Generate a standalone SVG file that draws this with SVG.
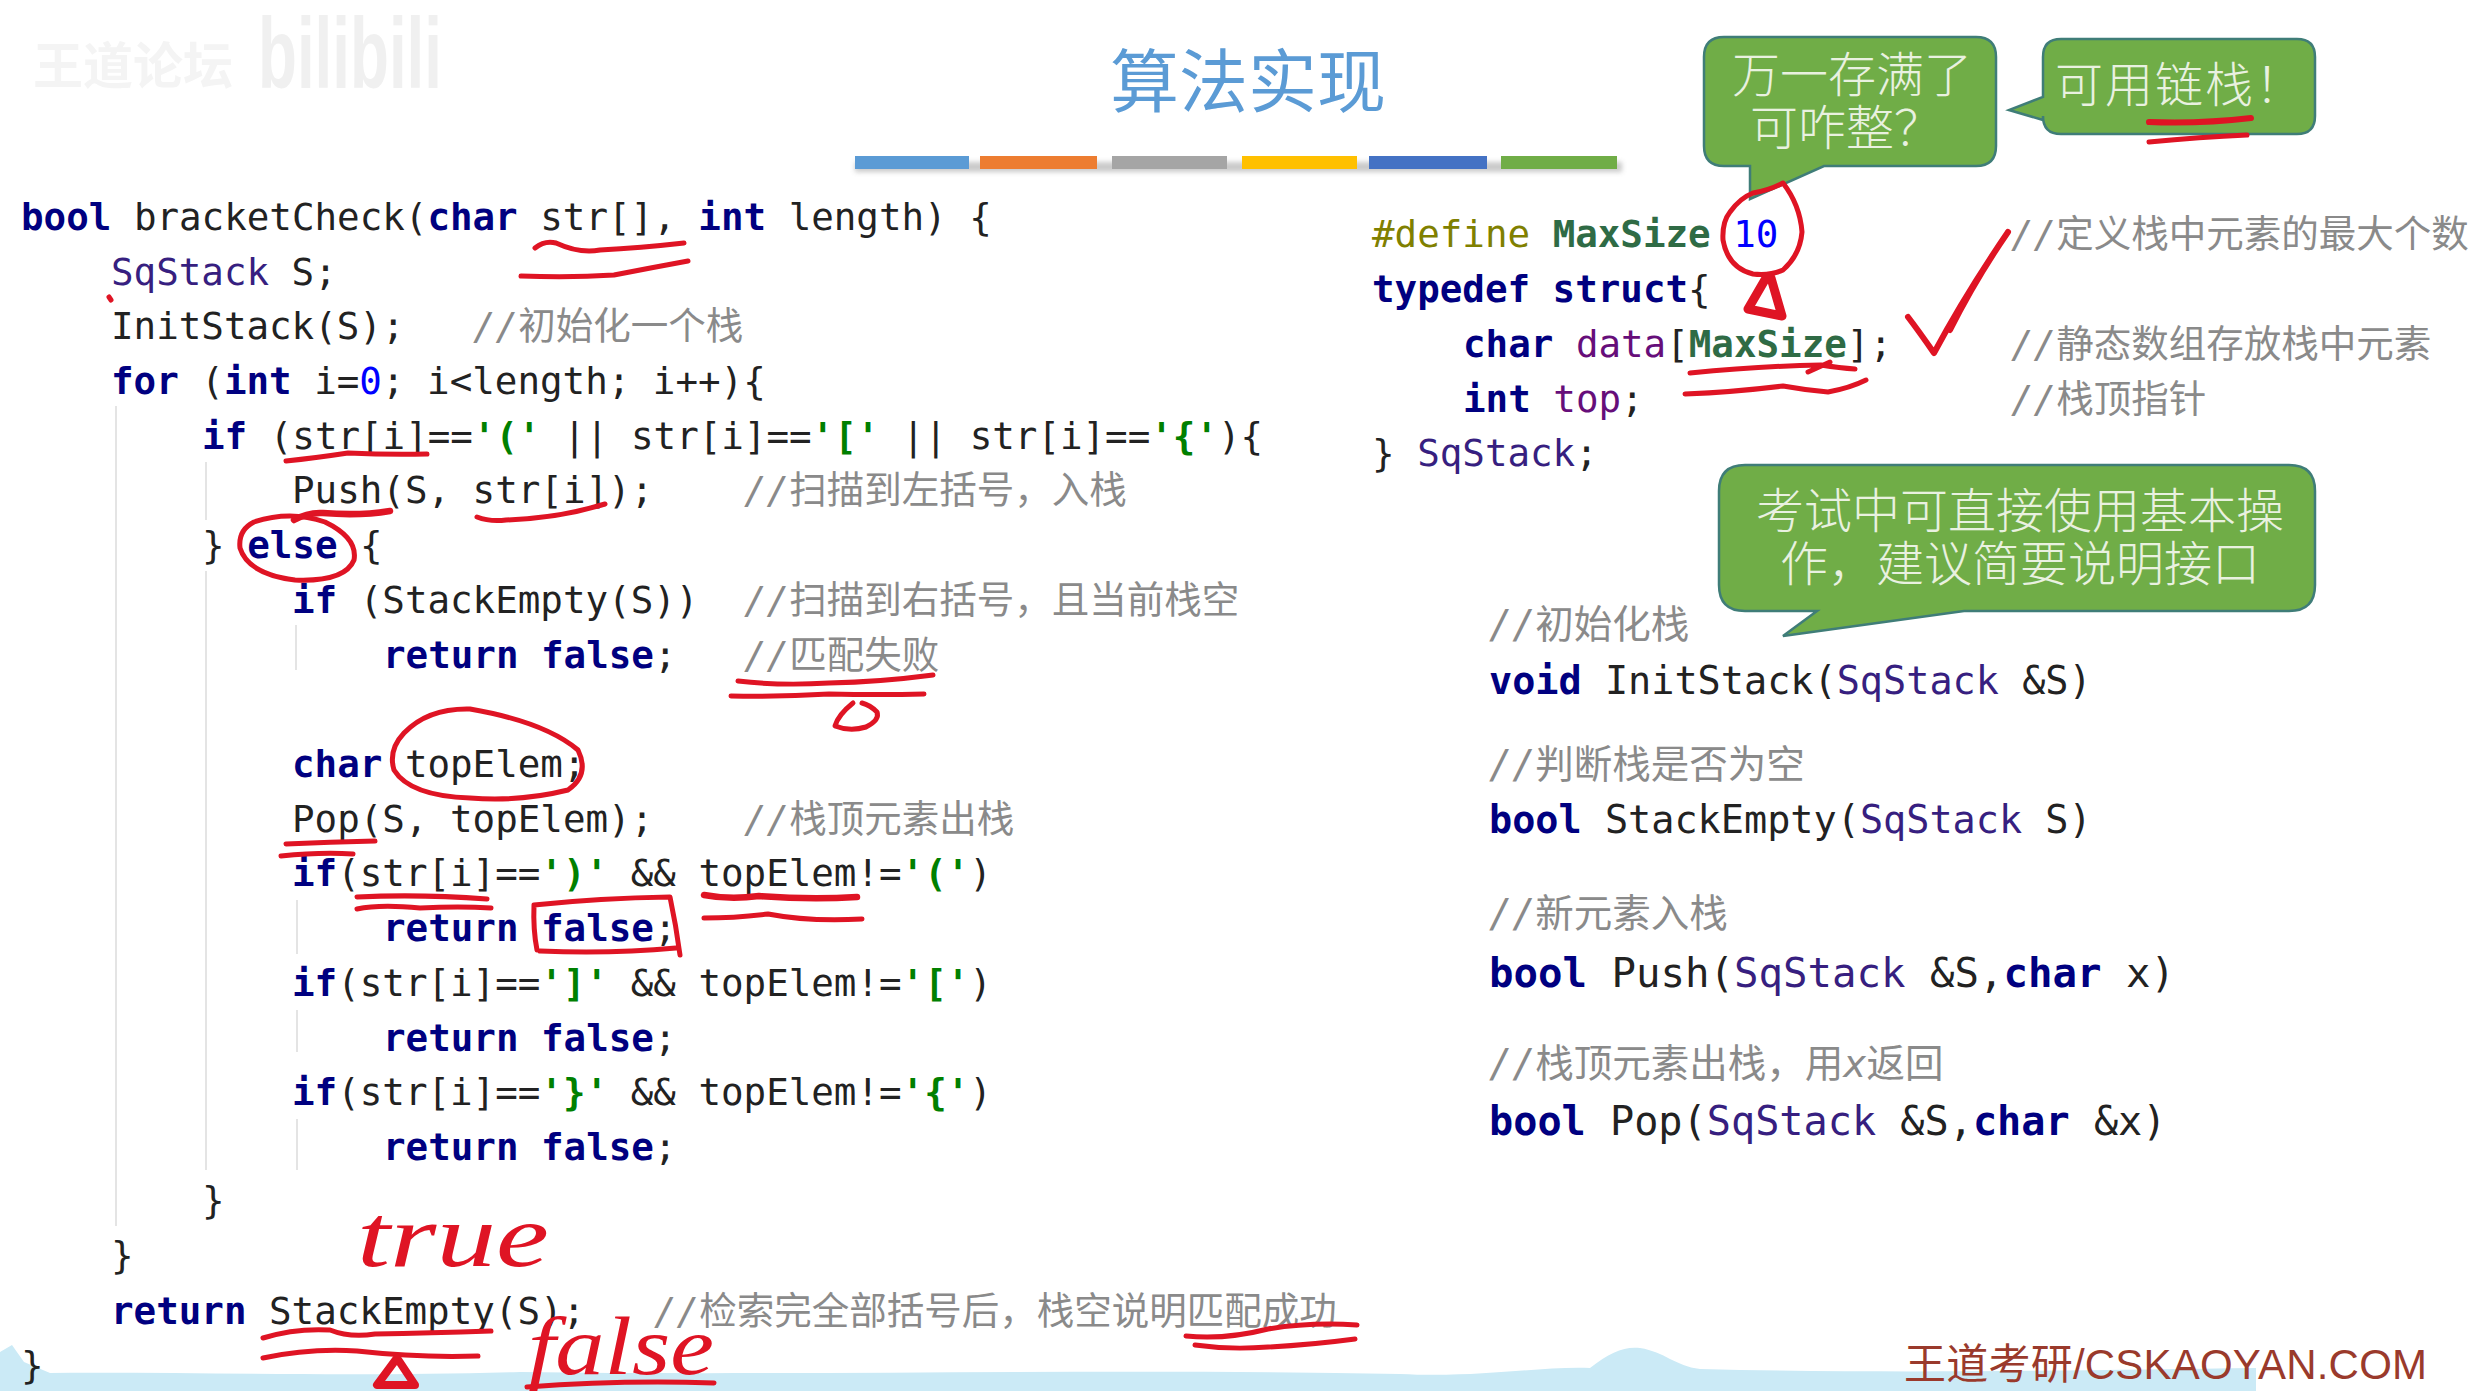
<svg xmlns="http://www.w3.org/2000/svg" width="2483" height="1391" viewBox="0 0 2483 1391">
<style>
text{white-space:pre}
.code{font-family:"DejaVu Sans Mono","Noto Sans CJK SC",monospace;font-size:37.5px;fill:#222}
.k{font-weight:bold;fill:#000080}
.t{fill:#371f80}
.m{fill:#660e7a}
.s{font-weight:bold;fill:#008000}
.n{fill:#0000ff}
.c{fill:#8a8a8a}
.i{font-style:italic}
.d{fill:#808000}
.g{font-weight:bold;fill:#2f6b45}
.guide{stroke:#e4e4e4;stroke-width:2;fill:none}
.bubble{fill:#70ad47;stroke:#3f7d78;stroke-width:2.5}
.bt{font-family:"Noto Sans CJK SC","Noto Sans",sans-serif;font-size:48px;fill:#e9f1e0;text-anchor:middle;font-weight:300}
.ink{fill:none;stroke:#df1424;stroke-width:5;stroke-linecap:round;stroke-linejoin:round}
.hand{font-family:"Liberation Serif",serif;font-style:italic;fill:#df1424}
</style>
<defs><filter id="sh" x="-5%" y="-50%" width="110%" height="200%"><feGaussianBlur stdDeviation="2.5"/></filter></defs>
<rect width="2483" height="1391" fill="#fff"/>
<g id="background">
<path d="M0 1391V1352L12 1345L24 1362L50 1373C200 1372 350 1377 520 1372C800 1376 1100 1368 1400 1374C1480 1378 1540 1366 1590 1368C1610 1352 1625 1346 1640 1348C1665 1352 1675 1366 1700 1369C1900 1374 2100 1370 2256 1368V1391Z" fill="#cbeaf6"/>
</g>
<g id="watermark">
<text x="33" y="84" font-family="Noto Sans CJK SC,sans-serif" font-size="50" font-weight="700" fill="#f4f4f4">王道论坛</text>
<text x="258" y="88" font-family="Liberation Sans,sans-serif" font-size="100" font-weight="700" fill="#f0f0f0" textLength="184" lengthAdjust="spacingAndGlyphs">bilibili</text>
</g>
<g id="title">
<text x="1110" y="107" font-family="Noto Sans CJK SC,sans-serif" font-size="69" fill="#5b9bd5">算法实现</text>
<g id="bars">
<g opacity=".45" filter="url(#sh)"><rect x="855" y="162" width="767" height="10" fill="#888"/></g>
<rect x="855" y="156" width="114" height="13" fill="#5b9bd5"/>
<rect x="980" y="156" width="117" height="13" fill="#ed7d31"/>
<rect x="1112" y="156" width="115" height="13" fill="#a5a5a5"/>
<rect x="1242" y="156" width="115" height="13" fill="#ffc000"/>
<rect x="1369" y="156" width="118" height="13" fill="#4472c4"/>
<rect x="1501" y="156" width="116" height="13" fill="#70ad47"/>
</g>
</g>
<g id="guides">
<path class="guide" d="M116 406V1226M206 462V520M206 571V1170M296 625V670M297 900V954M297 1010V1052M297 1119V1170"/>
</g>
<g id="left-code">
<text class="code" x="21" y="230"><tspan class="k">bool</tspan> bracketCheck(<tspan class="k">char</tspan> str[], <tspan class="k">int</tspan> length) {</text>
<text class="code" x="111" y="285"><tspan class="t">SqStack</tspan> S;</text>
<text class="code" x="111" y="339">InitStack(S);<tspan class="c" x="473"><tspan class="i">//</tspan>初始化一个栈</tspan></text>
<text class="code" x="111" y="394"><tspan class="k">for</tspan> (<tspan class="k">int</tspan> i=<tspan class="n">0</tspan>; i&lt;length; i++){</text>
<text class="code" x="202" y="449"><tspan class="k">if</tspan> (str[i]==<tspan class="s">'('</tspan> || str[i]==<tspan class="s">'['</tspan> || str[i]==<tspan class="s">'{'</tspan>){</text>
<text class="code" x="292" y="503">Push(S, str[i]);<tspan class="c" x="744"><tspan class="i">//</tspan>扫描到左括号，入栈</tspan></text>
<text class="code" x="202" y="558">} <tspan class="k">else</tspan> {</text>
<text class="code" x="292" y="613"><tspan class="k">if</tspan> (StackEmpty(S))<tspan class="c" x="744"><tspan class="i">//</tspan>扫描到右括号，且当前栈空</tspan></text>
<text class="code" x="383" y="668"><tspan class="k">return false</tspan>;<tspan class="c" x="744"><tspan class="i">//</tspan>匹配失败</tspan></text>
<text class="code" x="292" y="777"><tspan class="k">char</tspan> topElem;</text>
<text class="code" x="292" y="832">Pop(S, topElem);<tspan class="c" x="744"><tspan class="i">//</tspan>栈顶元素出栈</tspan></text>
<text class="code" x="292" y="886"><tspan class="k">if</tspan>(str[i]==<tspan class="s">')'</tspan> &amp;&amp; topElem!=<tspan class="s">'('</tspan>)</text>
<text class="code" x="383" y="941"><tspan class="k">return false</tspan>;</text>
<text class="code" x="292" y="996"><tspan class="k">if</tspan>(str[i]==<tspan class="s">']'</tspan> &amp;&amp; topElem!=<tspan class="s">'['</tspan>)</text>
<text class="code" x="383" y="1051"><tspan class="k">return false</tspan>;</text>
<text class="code" x="292" y="1105"><tspan class="k">if</tspan>(str[i]==<tspan class="s">'}'</tspan> &amp;&amp; topElem!=<tspan class="s">'{'</tspan>)</text>
<text class="code" x="383" y="1160"><tspan class="k">return false</tspan>;</text>
<text class="code" x="202" y="1213">}</text>
<text class="code" x="111" y="1268">}</text>
<text class="code" x="111" y="1324"><tspan class="k">return</tspan> StackEmpty(S);<tspan class="c" x="654"><tspan class="i">//</tspan>检索完全部括号后，栈空说明匹配成功</tspan></text>
<text class="code" x="21" y="1378">}</text>
</g>
<g id="struct-code">
<text class="code" x="1372" y="247"><tspan class="d">#define</tspan> <tspan class="g">MaxSize</tspan> <tspan class="n">10</tspan><tspan class="c" x="2011"><tspan class="i">//</tspan>定义栈中元素的最大个数</tspan></text>
<text class="code" x="1372" y="302"><tspan class="k">typedef struct</tspan>{</text>
<text class="code" x="1463" y="357"><tspan class="k">char</tspan> <tspan class="m">data</tspan>[<tspan class="g">MaxSize</tspan>];<tspan class="c" x="2011"><tspan class="i">//</tspan>静态数组存放栈中元素</tspan></text>
<text class="code" x="1463" y="412"><tspan class="k">int</tspan> <tspan class="m">top</tspan>;<tspan class="c" x="2011"><tspan class="i">//</tspan>栈顶指针</tspan></text>
<text class="code" x="1372" y="466">} <tspan class="t">SqStack</tspan>;</text>
</g>
<g id="api-code">
<text class="code c" x="1489" y="638" style="font-size:38.5px"><tspan class="i">//</tspan>初始化栈</text>
<text class="code" x="1489" y="694" style="font-size:38.5px"><tspan class="k">void</tspan> InitStack(<tspan class="t">SqStack</tspan> &amp;S)</text>
<text class="code c" x="1489" y="778" style="font-size:38.5px"><tspan class="i">//</tspan>判断栈是否为空</text>
<text class="code" x="1489" y="833" style="font-size:38.5px"><tspan class="k">bool</tspan> StackEmpty(<tspan class="t">SqStack</tspan> S)</text>
<text class="code c" x="1489" y="927" style="font-size:38.5px"><tspan class="i">//</tspan>新元素入栈</text>
<text class="code" x="1489" y="987" style="font-size:40.7px"><tspan class="k">bool</tspan> Push(<tspan class="t">SqStack</tspan> &amp;S,<tspan class="k">char</tspan> x)</text>
<text class="code c" x="1489" y="1077" style="font-size:38.5px"><tspan class="i">//</tspan>栈顶元素出栈，用<tspan class="i">x</tspan>返回</text>
<text class="code" x="1489" y="1135" style="font-size:40.2px"><tspan class="k">bool</tspan> Pop(<tspan class="t">SqStack</tspan> &amp;S,<tspan class="k">char</tspan> &amp;x)</text>
</g>
<g id="bubble-full">
<path class="bubble" d="M1724 37H1976Q1996 37 1996 57V146Q1996 166 1976 166H1824L1750 199V166H1724Q1704 166 1704 146V57Q1704 37 1724 37Z"/>
<text class="bt" x="1852" y="92">万一存满了</text>
<text class="bt" x="1846" y="145">可咋整？</text>
</g>
<g id="bubble-linked">
<path class="bubble" d="M2061 39H2297Q2315 39 2315 57V116Q2315 134 2297 134H2061Q2043 134 2043 116V120L2009 110L2043 97V57Q2043 39 2061 39Z"/>
<text class="bt" x="2180" y="102" letter-spacing="2">可用链栈！</text>
</g>
<g id="bubble-exam">
<path class="bubble" d="M1745 465H2289Q2315 465 2315 491V585Q2315 611 2289 611H1964L1783 636L1817 611H1745Q1719 611 1719 585V491Q1719 465 1745 465Z"/>
<text class="bt" x="2020" y="528">考试中可直接使用基本操</text>
<text class="bt" x="2020" y="581">作，建议简要说明接口</text>
</g>
<g id="footer">
<text x="1904" y="1379" font-family="Liberation Sans,Noto Sans CJK SC,sans-serif" font-size="42" fill="#9a3a2c" textLength="523">王道考研/CSKAOYAN.COM</text>
</g>
<g id="connectors">
<path class="ink" d="M535 248Q545 240 556 243Q580 254 600 250Q640 248 684 243"/>
<path class="ink" d="M521 276Q570 278 614 275Q650 268 688 261"/>
<path class="ink" d="M109 297L111 300"/>
<path class="ink" d="M286 461Q315 458 348 453Q390 455 427 454"/>
<path class="ink" style="stroke-width:6.5" d="M294 520Q308 512 323 513Q360 516 390 511"/>
<path class="ink" d="M477 517Q490 522 506 520Q560 518 605 504"/>
<path class="ink" d="M254 522Q290 510 325 522Q358 538 354 560Q345 582 295 580Q248 574 240 548Q238 530 254 522"/>
<path class="ink" d="M738 681Q780 686 829 683Q880 682 933 675"/>
<path class="ink" d="M731 696Q780 697 829 694Q880 695 924 694"/>
<path class="ink" d="M853 703Q838 715 835 726Q850 732 866 727Q880 720 877 712Q870 705 862 703"/>
<path class="ink" d="M404 733Q428 708 470 709Q545 722 578 750Q590 775 568 790Q520 802 470 798Q410 796 394 770Q388 750 404 733"/>
<path class="ink" d="M286 844Q330 842 375 841"/>
<path class="ink" d="M281 856Q320 852 353 854"/>
<path class="ink" d="M357 897Q420 894 487 899"/>
<path class="ink" d="M357 909Q380 904 420 908Q460 906 491 908"/>
<path class="ink" style="stroke-width:6.5" d="M704 895Q730 900 759 896Q810 900 857 897"/>
<path class="ink" d="M704 918Q735 918 768 914Q810 922 862 919"/>
<path class="ink" d="M534 905Q600 898 670 897Q676 925 680 955M540 951Q610 954 676 948M534 905Q533 930 537 950"/>
<path class="ink" d="M263 1338Q295 1328 330 1330Q350 1338 375 1334Q430 1333 491 1331"/>
<path class="ink" d="M263 1358Q310 1348 357 1351Q420 1358 478 1356"/>
<path class="ink" style="stroke-width:8" d="M397 1358L377 1385H415Z"/>
<path class="ink" d="M1186 1336Q1225 1340 1268 1329Q1310 1322 1357 1325"/>
<path class="ink" d="M1195 1345Q1230 1350 1268 1347Q1310 1345 1355 1339"/>
<path class="ink" d="M527 1387Q620 1380 714 1383"/>
<path class="ink" d="M1753 193Q1770 190 1783 183Q1800 205 1802 232Q1800 255 1783 270Q1770 276 1753 274Q1728 268 1723 240Q1722 222 1730 212Q1740 198 1753 193"/>
<path class="ink" style="stroke-width:9" d="M1766 278L1748 309L1782 316L1771 278Z"/>
<path class="ink" style="stroke-width:6" d="M1908 317Q1918 330 1934 353Q1965 295 2008 232Q1975 280 1950 330"/>
<path class="ink" d="M1690 373Q1760 366 1821 365Q1840 368 1855 369M1808 372L1830 362"/>
<path class="ink" d="M1685 394Q1735 392 1783 386Q1805 390 1828 392Q1850 388 1866 380"/>
<path class="ink" style="stroke-width:6" d="M2149 122Q2200 124 2251 118"/>
<path class="ink" d="M2149 142Q2200 137 2247 135"/>
<text class="hand" x="357" y="1266" font-size="88" textLength="192" lengthAdjust="spacingAndGlyphs">true</text>
<text class="hand" x="528" y="1374" font-size="82" textLength="186" lengthAdjust="spacingAndGlyphs">false</text>
</g>
</svg>
